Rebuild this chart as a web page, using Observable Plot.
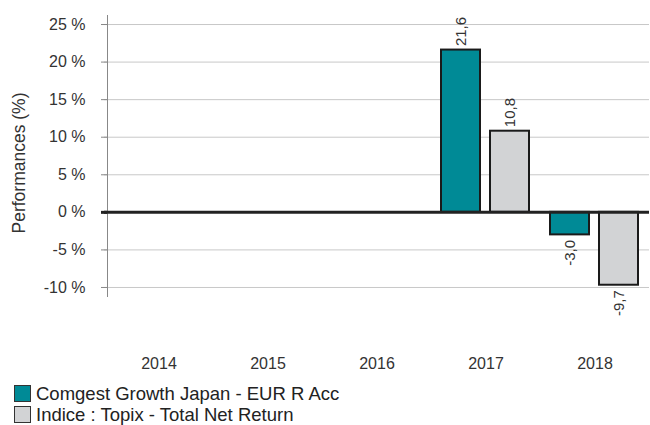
<!DOCTYPE html>
<html>
<head>
<meta charset="utf-8">
<script src="https://cdn.jsdelivr.net/npm/d3@7"></script>
<script src="https://cdn.jsdelivr.net/npm/@observablehq/plot@0.6"></script>
<style>
  body { margin: 0; background: #fff; font-family: "Liberation Sans", Arial, sans-serif; }
  #legend { margin-top: 3px; margin-left: 14px; font-size: 18.5px; line-height: 21px; color: #222; }
  .row { display: flex; align-items: center; height: 21px; }
  .sw { width: 17px; height: 17px; box-sizing: border-box; border: 1px solid #333; margin-right: 5px; }
</style>
</head>
<body>
<div id="chart"></div>
<div id="legend"></div>
<script>
const years = ["2014", "2015", "2016", "2017", "2018"];
const series = ["Comgest Growth Japan - EUR R Acc", "Indice : Topix - Total Net Return"];
const fundValues = [null, null, null, 21.6, -3.0];
const indexValues = [null, null, null, 10.8, -9.7];
const yTicks = [-10, -5, 0, 5, 10, 15, 20, 25];
const colors = ["#008a96", "#d2d3d5"];

// all years kept (null values are simply not drawn) so that no facet is empty
const rows = years.flatMap((year, i) => [
  {year, series: series[0], value: fundValues[i]},
  {year, series: series[1], value: indexValues[i]}
]);
const valued = rows.filter(d => d.value != null);

const fmt = v => v.toFixed(1).replace(".", ",");

const chart = Plot.plot({
  width: 650,
  height: 380,
  marginLeft: 104,
  marginRight: 1,
  marginTop: 15,
  marginBottom: 84,
  style: {fontFamily: "'Liberation Sans', Arial, sans-serif", fontSize: "16px", color: "#333", background: "#fff"},
  fx: {domain: years, padding: 0, label: null},
  x: {domain: series, paddingInner: 0.204, paddingOuter: 0.214, axis: null},
  y: {domain: [-11.2, 26.2], label: null},
  color: {domain: series, range: colors},
  marks: [
    Plot.gridY(yTicks, {stroke: "#c8c8c8", strokeOpacity: 1}),
    Plot.frame({anchor: "left", facetAnchor: "left", stroke: "#888", dx: 3}),
    Plot.barY(rows, {fx: "year", x: "series", y: "value", fill: "series", stroke: "#1a1a1a", strokeWidth: 2}),
    Plot.ruleY([0], {stroke: "#222", strokeWidth: 3}),
    Plot.text(valued.filter(d => d.value >= 0), {fx: "year", x: "series", y: "value", text: d => fmt(d.value), rotate: -90, textAnchor: "start", lineAnchor: "middle", dy: -4, fontSize: 15, fill: "#333"}),
    Plot.text(valued.filter(d => d.value < 0), {fx: "year", x: "series", y: "value", text: d => fmt(d.value), rotate: -90, textAnchor: "end", lineAnchor: "middle", dy: 5, fontSize: 15, fill: "#333"}),
    Plot.axisY(yTicks, {tickFormat: d => `${d} %`, tickSize: 6, tickPadding: 16, dx: 3, stroke: "#888", fill: "#333", fontSize: 16, label: null}),
    Plot.axisY([0], {tickFormat: () => "", tickSize: 6, dx: 3, stroke: "#222", strokeWidth: 3, label: null}),
    Plot.text(["Performances (%)"], {facet: "super", frameAnchor: "left", rotate: -90, textAnchor: "middle", lineAnchor: "top", dx: -92, dy: 7, fontSize: 17.5, fill: "#333"}),
    Plot.axisFx({anchor: "bottom", tickSize: 0, tickPadding: 61, fontSize: 16, fill: "#333", label: null})
  ]
});
document.getElementById("chart").appendChild(chart);

const legend = document.getElementById("legend");
series.forEach((s, i) => {
  const row = document.createElement("div");
  row.className = "row";
  const sw = document.createElement("div");
  sw.className = "sw";
  sw.style.background = colors[i];
  const label = document.createElement("span");
  label.textContent = s;
  row.appendChild(sw);
  row.appendChild(label);
  legend.appendChild(row);
});
</script>
</body>
</html>
